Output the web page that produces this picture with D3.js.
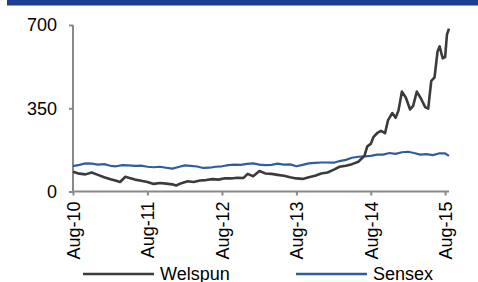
<!DOCTYPE html>
<html><head><meta charset="utf-8">
<script src="https://cdn.jsdelivr.net/npm/d3@7"></script>
<style>html,body{margin:0;padding:0;background:#fff;}svg{display:block;}</style>
</head><body>
<svg id="c" width="478" height="282"></svg>
<script>
const welspunDates = ["2010-08-01","2010-09-01","2010-10-01","2010-11-01","2010-12-01","2011-01-01","2011-02-01","2011-03-01","2011-03-20","2011-04-15","2011-05-01","2011-06-01","2011-07-01","2011-08-01","2011-09-01","2011-10-01","2011-11-01","2011-12-01","2011-12-20","2012-01-15","2012-02-15","2012-03-15","2012-04-15","2012-05-15","2012-06-15","2012-07-15","2012-08-15","2012-09-15","2012-10-15","2012-11-15","2012-12-05","2013-01-01","2013-02-01","2013-03-01","2013-04-01","2013-05-01","2013-06-01","2013-07-01","2013-08-01","2013-09-01","2013-10-01","2013-11-01","2013-12-01","2014-01-01","2014-02-01","2014-03-01","2014-04-01","2014-05-01","2014-06-01","2014-07-01","2014-07-15","2014-08-01","2014-08-15","2014-09-01","2014-09-20","2014-10-10","2014-10-25","2014-11-15","2014-12-01","2014-12-15","2015-01-01","2015-01-20","2015-02-10","2015-02-25","2015-03-15","2015-04-05","2015-04-25","2015-05-10","2015-05-25","2015-06-10","2015-06-25","2015-07-05","2015-07-20","2015-08-01","2015-08-10","2015-08-20"];
const welspunValues = [83,75,72,80,70,60,52,45,40,62,58,50,45,40,32,36,33,30,25,35,43,40,46,48,52,50,56,55,58,57,74,64,86,76,74,70,66,60,55,53,60,66,76,80,92,104,108,115,125,150,190,200,230,245,255,245,300,330,310,340,420,395,345,360,420,390,355,348,465,480,590,610,560,565,660,685];
const sensexDates = ["2010-08-01","2010-09-01","2010-10-01","2010-11-01","2010-12-01","2011-01-01","2011-02-01","2011-03-01","2011-04-01","2011-05-01","2011-06-01","2011-07-01","2011-08-01","2011-09-01","2011-10-01","2011-11-01","2011-12-01","2012-01-01","2012-02-01","2012-03-01","2012-04-01","2012-05-01","2012-06-01","2012-07-01","2012-08-01","2012-09-01","2012-10-01","2012-11-01","2012-12-01","2013-01-01","2013-02-01","2013-03-01","2013-04-01","2013-05-01","2013-06-01","2013-07-01","2013-08-01","2013-09-01","2013-10-01","2013-11-01","2013-12-01","2014-01-01","2014-02-01","2014-03-01","2014-04-01","2014-05-01","2014-06-01","2014-07-01","2014-08-01","2014-09-01","2014-10-01","2014-11-01","2014-12-01","2015-01-01","2015-02-01","2015-03-01","2015-04-01","2015-05-01","2015-06-01","2015-07-01","2015-08-01","2015-08-20"];
const sensexValues = [107,112,118,117,113,115,108,106,111,110,108,109,104,102,104,100,96,103,110,108,105,99,100,104,106,111,113,112,116,118,113,111,112,117,113,114,106,112,118,120,122,122,121,128,133,142,146,148,150,155,155,162,158,165,167,162,155,157,153,160,160,150];
const xTickDates = ["2010-08-01","2011-08-01","2012-08-01","2013-08-01","2014-08-01","2015-08-01"];
const xTickLabels = ["Aug-10","Aug-11","Aug-12","Aug-13","Aug-14","Aug-15"];
const yTicks = [0,350,700];
const seriesNames = ["Welspun","Sensex"];
const seriesColors = ["#3b3b3b","#2f5e9c"];

const parse = d3.timeParse("%Y-%m-%d");
const svg = d3.select("#c");
const font = "Liberation Sans, Arial, sans-serif";

svg.append("rect").attr("x",7).attr("y",0).attr("width",471).attr("height",5.5).attr("fill","#1f3f92");

const x = d3.scaleTime().domain([parse("2010-08-01"), parse("2015-08-20")]).range([73, 449]);
const y = d3.scaleLinear().domain([0,700]).range([191.5, 25]);

const gy = svg.append("g").attr("transform","translate(73,0)")
  .call(d3.axisLeft(y).tickValues(yTicks).tickSize(4).tickPadding(12).tickSizeOuter(0));
gy.selectAll("path,line").attr("stroke","#898989").attr("stroke-width",2);
gy.selectAll("text").attr("font-family",font).attr("font-size","18px").attr("fill","#000");
gy.select(".domain").attr("d","M0,"+y(700)+"V"+y(0));

const gx = svg.append("g").attr("transform","translate(0,"+y(0)+")")
  .call(d3.axisBottom(x).tickValues(xTickDates.map(parse)).tickFormat((d,i)=>xTickLabels[i]).tickSize(4).tickSizeOuter(0));
gx.selectAll("path,line").attr("stroke","#898989").attr("stroke-width",2);
gx.select(".domain").attr("d","M72,0H449");
gx.selectAll("text").attr("font-family",font).attr("font-size","18px").attr("fill","#000")
  .attr("transform","rotate(-90)").attr("text-anchor","end").attr("x",-10).attr("y",0).attr("dy","0.35em");

const line = d3.line().x(d=>x(d[0])).y(d=>y(d[1]));
const sens = sensexDates.map((d,i)=>[parse(d), sensexValues[i]]);
const wel = welspunDates.map((d,i)=>[parse(d), welspunValues[i]]);
svg.append("path").datum(sens).attr("d",line).attr("fill","none").attr("stroke",seriesColors[1]).attr("stroke-width",2.2).attr("stroke-linejoin","round");
svg.append("path").datum(wel).attr("d",line).attr("fill","none").attr("stroke",seriesColors[0]).attr("stroke-width",2.6).attr("stroke-linejoin","round");

const legX = [83, 296];
seriesNames.forEach((n,i)=>{
  svg.append("line").attr("x1",legX[i]).attr("x2",legX[i]+71).attr("y1",274).attr("y2",274)
    .attr("stroke",seriesColors[i]).attr("stroke-width",2.6);
  svg.append("text").attr("x",legX[i]+77).attr("y",280).attr("font-family",font).attr("font-size","18px").attr("fill","#000").text(n);
});
</script>
</body></html>
